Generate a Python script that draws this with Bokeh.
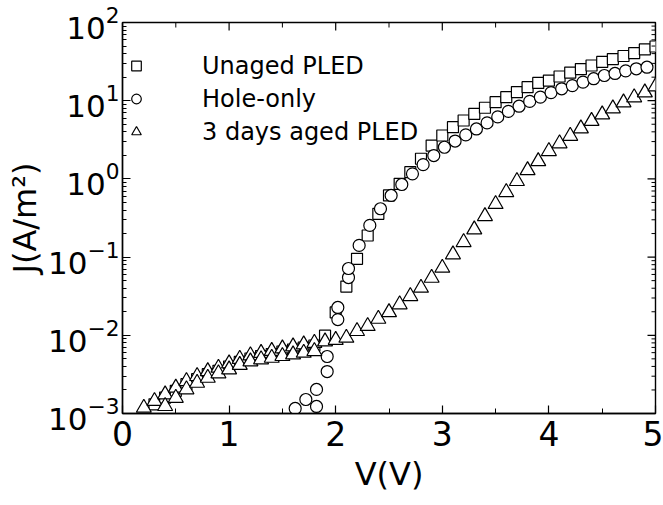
from bokeh.plotting import figure
from bokeh.models import FixedTicker, Legend, LegendItem, Range1d, ColumnDataSource
from bokeh.embed import file_html
from bokeh.resources import INLINE

# Unaged PLED, current density J (A/m^2) versus bias V (V)
v_unaged = [0.3, 0.4, 0.5, 0.6, 0.7, 0.8, 0.9, 1.0, 1.1, 1.2, 1.3, 1.4, 1.5, 1.6,
            1.7, 1.8, 1.9, 2.0, 2.1, 2.2, 2.3, 2.4, 2.5, 2.6, 2.7, 2.8, 2.9, 3.0,
            3.1, 3.2, 3.3, 3.4, 3.5, 3.6, 3.7, 3.8, 3.9, 4.0, 4.1, 4.2, 4.3, 4.4,
            4.5, 4.6, 4.7, 4.8, 4.9, 5.0]
j_unaged = [1.31e-3, 1.60e-3, 1.95e-3, 2.37e-3, 2.75e-3, 3.18e-3, 3.51e-3, 3.99e-3,
            4.56e-3, 5.05e-3, 5.44e-3, 5.77e-3, 6.21e-3, 6.58e-3, 6.98e-3, 7.41e-3,
            9.9e-3, 1.96e-2, 4.2e-2, 9.5e-2, 0.189, 0.358, 0.614, 0.865, 1.22, 1.81,
            2.67, 3.59, 4.58, 5.58, 6.80, 8.12, 9.57, 11.1, 12.9, 14.9, 16.9, 18.1,
            20.4, 22.9, 25.4, 28.2, 31.3, 34.1, 37.3, 40.7, 45.2, 49.3]

# Hole-only device (two readings near turn-on)
v_hole = [1.62, 1.72, 1.82, 1.82, 1.92, 1.92, 2.02, 2.02, 2.12, 2.12, 2.22, 2.32,
          2.42, 2.52, 2.62, 2.72, 2.82, 2.92, 3.02, 3.12, 3.22, 3.32, 3.42, 3.52,
          3.62, 3.72, 3.82, 3.92, 4.02, 4.12, 4.22, 4.32, 4.42, 4.52, 4.62, 4.72,
          4.82, 4.92]
j_hole = [1.16e-3, 1.51e-3, 1.23e-3, 2.03e-3, 3.44e-3, 5.36e-3, 1.59e-2, 2.27e-2,
          5.48e-2, 7.15e-2, 0.141, 0.254, 0.415, 0.614, 0.848, 1.16, 1.52, 1.99,
          2.54, 3.05, 3.65, 4.35, 5.2, 6.2, 7.3, 8.5, 9.8, 11.1, 12.7, 14.2, 15.6,
          17.3, 19.1, 21.0, 22.3, 24.1, 25.6, 26.8]

# 3 days aged PLED, main sweep
v_aged = [0.2, 0.3, 0.4, 0.5, 0.6, 0.7, 0.8, 0.9, 1.0, 1.1, 1.2, 1.3, 1.4, 1.5,
          1.6, 1.7, 1.8, 1.9, 2.0, 2.1, 2.2, 2.3, 2.4, 2.5, 2.6, 2.7, 2.8, 2.9,
          3.0, 3.1, 3.2, 3.3, 3.4, 3.5, 3.6, 3.7, 3.8, 3.9, 4.0, 4.1, 4.2, 4.3,
          4.4, 4.5, 4.6, 4.7, 4.8, 4.9, 5.0]
j_aged = [1.18e-3, 1.44e-3, 1.75e-3, 2.13e-3, 2.59e-3, 3.00e-3, 3.47e-3, 3.83e-3,
          4.36e-3, 4.98e-3, 5.52e-3, 5.94e-3, 6.30e-3, 6.78e-3, 7.19e-3, 7.63e-3,
          7.98e-3, 8.33e-3, 8.71e-3, 9.27e-3, 1.13e-2, 1.31e-2, 1.62e-2, 1.97e-2,
          2.48e-2, 3.16e-2, 4.04e-2, 5.42e-2, 7.28e-2, 0.108, 0.155, 0.225, 0.333,
          0.476, 0.676, 0.935, 1.29, 1.68, 2.26, 2.84, 3.54, 4.41, 5.50, 6.66,
          7.95, 9.48, 11.0, 12.7, 15.2]

# 3 days aged PLED, repeat readings at low bias
v_aged_rep = [0.4, 0.5, 0.6, 0.7, 0.8, 0.9, 1.0, 1.1, 1.2, 1.3, 1.4, 1.5, 1.6, 1.7, 1.8]
j_aged_rep = [1.24e-3, 1.58e-3, 2.03e-3, 2.46e-3, 2.85e-3, 3.25e-3, 3.65e-3, 4.17e-3,
              4.62e-3, 4.91e-3, 5.14e-3, 5.41e-3, 5.68e-3, 5.96e-3, 6.26e-3]

y_major = [1e-3, 1e-2, 1e-1, 1e0, 1e1, 1e2]
y_minor = [k * 10.0 ** e for e in range(-3, 2) for k in range(2, 10)]
x_major = [0, 1, 2, 3, 4, 5]
x_minor = [0.5, 1.5, 2.5, 3.5, 4.5]

X_MIN, X_MAX = 0, 5
Y_MIN, Y_MAX = 1e-3, 1e2

FONT = "DejaVu Sans"
W, H = 663, 505
B_LEFT, B_RIGHT, B_TOP, B_BOTTOM = 122, 8, 22, 92

p = figure(width=W, height=H, x_range=Range1d(X_MIN, X_MAX),
           y_range=Range1d(Y_MIN, Y_MAX), y_axis_type="log",
           output_backend="svg", toolbar_location=None,
           min_border_left=B_LEFT, min_border_right=B_RIGHT,
           min_border_top=B_TOP, min_border_bottom=B_BOTTOM,
           background_fill_color="white", border_fill_color="white")
p.xgrid.visible = False
p.ygrid.visible = False
p.outline_line_color = "black"
p.outline_line_width = 1.4

src_u = ColumnDataSource(dict(v=v_unaged, j=j_unaged))
src_h = ColumnDataSource(dict(v=v_hole, j=j_hole))
src_a = ColumnDataSource(dict(v=v_aged + v_aged_rep, j=j_aged + j_aged_rep))

r_u = p.scatter("v", "j", source=src_u, marker="square", size=11,
                fill_color="white", line_color="black", line_width=1.2)
r_h = p.scatter("v", "j", source=src_h, marker="circle", size=12,
                fill_color="white", line_color="black", line_width=1.2)
r_a = p.scatter("v", "j", source=src_a, marker="triangle", size=15,
                fill_color="white", line_color="black", line_width=1.2)


def style_axis(ax, label, tick_size, label_size):
    ax.axis_line_color = "black"
    ax.axis_line_width = 1.4
    ax.major_tick_line_color = "black"
    ax.minor_tick_line_color = "black"
    ax.major_tick_line_width = 1.2
    ax.minor_tick_line_width = 1.0
    ax.major_tick_in = 8
    ax.major_tick_out = 0
    ax.minor_tick_in = 4
    ax.minor_tick_out = 0
    ax.major_label_text_font = FONT
    ax.major_label_text_font_size = tick_size
    ax.major_label_text_color = "black"
    ax.axis_label = label
    ax.axis_label_text_font = FONT
    ax.axis_label_text_font_size = label_size
    ax.axis_label_text_font_style = "normal"
    ax.axis_label_text_color = "black"


xb = p.xaxis[0]
xb.ticker = FixedTicker(ticks=x_major, minor_ticks=x_minor)
style_axis(xb, "V(V)", "33px", "32px")
xb.minor_tick_in = 5
xb.major_label_standoff = 7
xb.axis_label_standoff = 6

yl = p.yaxis[0]
yl.ticker = FixedTicker(ticks=y_major, minor_ticks=y_minor)
style_axis(yl, "J(A/m²)", "31px", "32px")
yl.major_label_standoff = 3
yl.axis_label_standoff = 1

# inward tick marks on the top and right frame edges
frame_w = W - B_LEFT - B_RIGHT
frame_h = H - B_TOP - B_BOTTOM
px_per_volt = frame_w / (X_MAX - X_MIN)
px_per_decade = frame_h / 5.0


def top_ticks(xs, length):
    return dict(x0=xs, x1=xs, y0=[Y_MAX] * len(xs),
                y1=[Y_MAX / 10 ** (length / px_per_decade)] * len(xs))


def right_ticks(ys, length):
    return dict(x0=[X_MAX] * len(ys), x1=[X_MAX - length / px_per_volt] * len(ys),
                y0=ys, y1=ys)


for ticks, length in ((top_ticks(x_major, 8), 8), (top_ticks(x_minor, 5), 5),
                      (right_ticks(y_major, 8), 8), (right_ticks(y_minor, 4), 4)):
    p.segment(source=ColumnDataSource(ticks), x0="x0", y0="y0", x1="x1", y1="y1",
              line_color="black", line_width=1.2 if length == 8 else 1.0)

legend = Legend(items=[LegendItem(label="Unaged PLED", renderers=[r_u]),
                       LegendItem(label="Hole-only", renderers=[r_h]),
                       LegendItem(label="3 days aged PLED", renderers=[r_a])],
                location=(2, 265), border_line_color=None, background_fill_alpha=0,
                label_text_font=FONT, label_text_font_size="24px",
                label_text_color="black", glyph_width=24, glyph_height=33,
                label_height=33, label_standoff=54, spacing=0, padding=0, margin=0)
p.add_layout(legend)

open("out.html", "w").write(file_html(p, INLINE))
